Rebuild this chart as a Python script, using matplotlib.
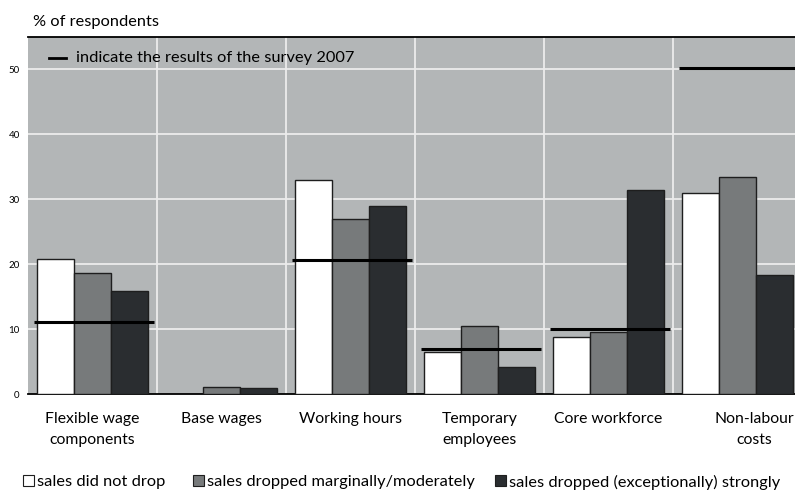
# survey chart: labour cost adjustments by sales development

# dependencies
import numpy as np
import matplotlib.pyplot as plt
import matplotlib.transforms as mtransforms
from matplotlib.patches import Patch

plt.rcParams['font.family'] = ['Lato', 'DejaVu Sans']

# data
categories = ['Flexible wage\ncomponents', 'Base wages', 'Working hours',
              'Temporary\nemployees', 'Core workforce', 'Non-labour\ncosts']
no_drop = [20.8, 0.0, 33.0, 6.4, 8.8, 31.0]
moderate = [18.6, 1.1, 27.0, 10.4, 9.6, 33.5]
strong = [15.9, 1.0, 28.9, 4.2, 31.5, 18.3]
survey_2007 = [11.1, 0.0, 20.6, 7.0, 10.0, 50.2]
series_names = ['sales did not drop', 'sales dropped marginally/moderately',
                'sales dropped (exceptionally) strongly']

# colours
bg = '#b3b6b7'
colors = ['#ffffff', '#777a7b', '#2a2d30']
fs = 11.8

fig = plt.figure(figsize=(7.95, 4.91), dpi=100)
ax = fig.add_axes([28/795, 97/491, 1 - 28/795, 357/491])
ax.set_facecolor(bg)

x = np.arange(len(categories))
w = 37/129
for k, vals in enumerate([no_drop, moderate, strong]):
    vals = np.array(vals)
    keep = vals > 0   # zero values are not drawn in the original
    ax.bar(x[keep] + (k - 1) * w, vals[keep], w, color=colors[k], edgecolor='#1e1e1e',
           linewidth=1.0, zorder=3)

# 2007 survey results as horizontal lines
for i, v in enumerate(survey_2007):
    if v > 0:
        ax.hlines(v, i - 0.45, i + 0.48, color='black', linewidth=2.2, zorder=4)

# grid
ax.set_ylim(0, 55)
ax.set_xlim(-0.5, -0.5 + 767/129)
ax.set_yticks([0, 10, 20, 30, 40, 50])
for yv in [10, 20, 30, 40, 50]:
    ax.axhline(yv, color='#ececec', linewidth=1.3, zorder=1)
for xv in np.arange(0.5, 5.5, 1):
    ax.axvline(xv, color='#ececec', linewidth=1.3, zorder=1)

ax.spines['left'].set_visible(False)
ax.spines['right'].set_visible(False)
ax.spines['top'].set_linewidth(1.3)
ax.spines['bottom'].set_linewidth(1.3)
ax.tick_params(axis='both', length=0)
ax.tick_params(axis='y', labelsize=7, pad=6)
ax.set_xticks(x)
ax.set_xticklabels(categories, fontsize=11.3, linespacing=1.65)
ax.tick_params(axis='x', pad=13)
# last label sits a bit to the right in the original
lbl = ax.get_xticklabels()[-1]
lbl.set_transform(lbl.get_transform() + mtransforms.ScaledTranslation(0.165, 0, fig.dpi_scale_trans))

# texts
fig.text(33/795, 1 - 22/491, '% of respondents', fontsize=fs, va='center', ha='left')
ax.plot([0.0274, 0.0495], [0.94, 0.94], transform=ax.transAxes, color='black', linewidth=2.0, zorder=5)
ax.text(0.0626, 0.94, 'indicate the results of the survey 2007', transform=ax.transAxes,
        fontsize=fs, va='center', ha='left')

# bottom legend, one entry each so they sit where the original has them
leg_x = [23, 193, 495]
fpx = fs * 100 / 72
for k in range(3):
    h = Patch(facecolor=colors[k], edgecolor='#1e1e1e', linewidth=0.8)
    leg = fig.legend([h], [series_names[k]], loc='center left',
                     bbox_to_anchor=(leg_x[k]/795, 1 - 482/491), frameon=False, fontsize=fs,
                     handlelength=11/fpx, handleheight=11/fpx, handletextpad=3/fpx,
                     borderaxespad=0, borderpad=0)

fig.savefig('out.png', dpi=100)
